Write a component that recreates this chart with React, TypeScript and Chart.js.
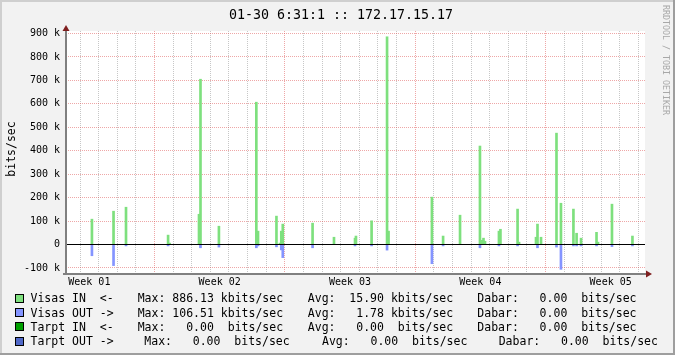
import React, { useEffect, useRef } from 'react';
import { Chart, registerables } from 'chart.js';

Chart.register(...registerables);

// ---------- text ----------
const titleText = '01-30 6:31:1 :: 172.17.15.17';
const unitLabel = 'bits/sec';
const watermarkText = 'RRDTOOL / TOBI OETIKER';

// ---------- x axis (days) ----------
const weekLabels = ['Week 01', 'Week 02', 'Week 03', 'Week 04', 'Week 05'];
const weekLabelDays = [3.5, 10.5, 17.5, 24.5, 31.5];
const gridDays = [3, 4, 5, 6, 7, 8, 9, 10, 11, 12, 13, 14, 15, 16, 17, 18, 19, 20, 21, 22, 23, 24, 25, 26, 27, 28, 29, 30, 31, 32, 33];
const xMinDay = 2.247;
const xMaxDay = 33.344;

// ---------- y axis (kbits/sec) ----------
const yTickK = [-100, -50, 0, 50, 100, 150, 200, 250, 300, 350, 400, 450, 500, 550, 600, 650, 700, 750, 800, 850, 900];
const yMinK = -121.6;
const yMaxK = 910.7;

// ---------- data (2-hour samples, kbits/sec) ----------
const sampleDays = [
  3.64, 4.80, 5.47, 7.73, 7.81, 9.39, 9.47, 10.46, 12.47, 12.56,
  13.55, 13.74, 13.81, 13.89, 15.49, 16.64, 17.77, 17.82, 18.66, 19.49,
  19.57, 21.90, 22.50, 23.41, 24.48, 24.59, 24.67, 24.75, 25.50, 25.58,
  26.50, 26.58, 27.49, 27.57, 27.76, 28.59, 28.83, 29.50, 29.67, 29.91,
  30.74, 30.82, 31.57, 32.67,
];
const visasInK = [
  108, 142, 159, 40, 6, 129, 705, 78, 607, 57,
  121, 6, 57, 87, 91, 31, 27, 36, 101, 886,
  57, 202, 36, 125, 420, 18, 27, 14, 57, 65,
  151, 10, 31, 87, 31, 475, 176, 151, 48, 27,
  52, 10, 172, 36,
];
const visasOutK = [
  48, 90, 6, 6, 0, 0, 14, 11, 14, 6,
  10, 0, 23, 56, 14, 0, 6, 0, 6, 24,
  0, 82, 6, 0, 14, 0, 0, 0, 6, 0,
  6, 0, 0, 14, 0, 11, 106, 6, 6, 6,
  6, 0, 9, 6,
];

// ---------- legend ----------
const legendNames = ['Visas IN  <-', 'Visas OUT ->', 'Tarpt IN  <-', 'Tarpt OUT ->'];
const legendColors = ['#7ee07e', '#8494ff', '#00a000', '#5068c8'];
const legendMax = ['886.13 kbits/sec', '106.51 kbits/sec', '  0.00  bits/sec', '  0.00  bits/sec'];
const legendAvg = [' 15.90 kbits/sec', '  1.78 kbits/sec', '  0.00  bits/sec', '  0.00  bits/sec'];
const legendNow = ['  0.00  bits/sec', '  0.00  bits/sec', '  0.00  bits/sec', '  0.00  bits/sec'];

const MONO = '"DejaVu Sans Mono", monospace';
const MAJOR = 'rgba(222,79,79,0.5)';
const MINOR = 'rgba(143,143,143,0.5)';

const decorPlugin = {
  id: 'rrdDecor',
  beforeDraw(chart: any) {
    const { ctx, chartArea: a, width, height } = chart;
    ctx.save();
    ctx.fillStyle = '#f2f2f2';
    ctx.fillRect(0, 0, width, height);
    ctx.fillStyle = '#cfcfcf';
    ctx.fillRect(0, 0, width, 2);
    ctx.fillRect(0, 0, 2, height);
    ctx.fillStyle = '#9e9e9e';
    ctx.fillRect(0, height - 2, width, 2);
    ctx.fillRect(width - 2, 0, 2, height);
    ctx.fillStyle = '#ffffff';
    ctx.fillRect(a.left, a.top, a.right - a.left, a.bottom - a.top);
    ctx.restore();
  },
  afterDatasetsDraw(chart: any) {
    const { ctx, chartArea: a, scales } = chart;
    const y0 = Math.floor(scales.y.getPixelForValue(0));
    ctx.save();
    ctx.fillStyle = '#000000';
    ctx.fillRect(a.left, y0, a.right - a.left, 1);
    ctx.restore();
  },
  afterDraw(chart: any) {
    const { ctx, chartArea: a, width } = chart;
    ctx.save();
    // axes
    ctx.fillStyle = '#808080';
    ctx.fillRect(a.left - 1, a.top - 3, 2, a.bottom - a.top + 5);
    ctx.fillRect(a.left - 3, a.bottom, a.right - a.left + 7, 2);
    // arrows
    ctx.fillStyle = '#7f1f1f';
    ctx.beginPath();
    ctx.moveTo(a.left - 3.5, a.top);
    ctx.lineTo(a.left + 3.5, a.top);
    ctx.lineTo(a.left, a.top - 6);
    ctx.closePath();
    ctx.fill();
    ctx.beginPath();
    ctx.moveTo(a.right + 1, a.bottom - 2.5);
    ctx.lineTo(a.right + 1, a.bottom + 4.5);
    ctx.lineTo(a.right + 7, a.bottom + 1);
    ctx.closePath();
    ctx.fill();

    // title
    ctx.fillStyle = '#000000';
    ctx.font = `13.3px ${MONO}`;
    ctx.textAlign = 'center';
    ctx.textBaseline = 'alphabetic';
    ctx.fillText(titleText, 341, 19);

    // unit label
    ctx.save();
    ctx.translate(15, 149);
    ctx.rotate(-Math.PI / 2);
    ctx.font = `11.5px ${MONO}`;
    ctx.textAlign = 'center';
    ctx.fillText(unitLabel, 0, 0);
    ctx.restore();

    // watermark
    ctx.save();
    ctx.translate(width - 12, 5);
    ctx.rotate(Math.PI / 2);
    ctx.font = `8.3px ${MONO}`;
    ctx.fillStyle = '#a8a8a8';
    ctx.textAlign = 'left';
    ctx.fillText(watermarkText, 0, 0);
    ctx.restore();

    // legend
    const baselines = [302.3, 316.5, 330.7, 345];
    const colMax = [137.7, 137.7, 137.7, 144.3];
    const colAvg = [307.8, 307.8, 307.8, 322];
    const colNow = [477.3, 477.3, 477.3, 498.7];
    ctx.font = `11.5px ${MONO}`;
    ctx.textAlign = 'left';
    for (let i = 0; i < legendNames.length; i++) {
      const b = baselines[i];
      const top = Math.round(b - 8.3);
      ctx.fillStyle = legendColors[i];
      ctx.fillRect(15, top, 9, 9);
      ctx.strokeStyle = '#000000';
      ctx.lineWidth = 1;
      ctx.strokeRect(15.5, top + 0.5, 8, 8);
      ctx.fillStyle = '#000000';
      ctx.fillText(legendNames[i], 30.5, b);
      ctx.fillText(`Max: ${legendMax[i]}`, colMax[i], b);
      ctx.fillText(`Avg: ${legendAvg[i]}`, colAvg[i], b);
      ctx.fillText(`Dabar: ${legendNow[i]}`, colNow[i], b);
    }
    ctx.restore();
  },
};

export default function App() {
  const ref = useRef<HTMLCanvasElement>(null);
  useEffect(() => {
    document.body.style.margin = '0';
    const canvas = ref.current!;
    const chart = new Chart(canvas, {
      type: 'bar',
      data: {
        datasets: [
          {
            label: 'Visas IN',
            data: sampleDays.map((d, i) => ({ x: d, y: visasInK[i] * 1000 })),
            backgroundColor: legendColors[0],
            borderWidth: 0,
            barThickness: 2,
            grouped: false,
          } as any,
          {
            label: 'Visas OUT',
            data: sampleDays.map((d, i) => ({ x: d, y: -visasOutK[i] * 1000 })),
            backgroundColor: legendColors[1],
            borderWidth: 0,
            barThickness: 2,
            grouped: false,
          } as any,
        ],
      },
      options: {
        animation: false,
        responsive: false,
        events: [],
        layout: { padding: { left: 0, top: 31, right: 30, bottom: 0 } },
        plugins: { legend: { display: false }, tooltip: { enabled: false } },
        scales: {
          x: {
            type: 'linear',
            offset: false,
            min: xMinDay,
            max: xMaxDay,
            afterBuildTicks: (s: any) => {
              const vals = [...gridDays, ...weekLabelDays].sort((p, q) => p - q);
              s.ticks = vals.map((v) => ({ value: v }));
            },
            afterFit: (s: any) => {
              s.height = 82;
            },
            ticks: {
              autoSkip: false,
              maxRotation: 0,
              minRotation: 0,
              padding: 3,
              color: '#000000',
              font: { family: MONO, size: 10 },
              callback: (v: any) => {
                const idx = weekLabelDays.indexOf(Number(v));
                return idx >= 0 ? weekLabels[idx] : '';
              },
            },
            grid: {
              offset: false,
              drawTicks: false,
              lineWidth: 1,
              borderDash: [1, 1],
              color: (c: any) => {
                const v = c.tick ? c.tick.value : NaN;
                if (!gridDays.includes(v)) return 'rgba(0,0,0,0)';
                return v % 7 === 0 ? MAJOR : MINOR;
              },
            } as any,
            border: { display: false, dash: [1, 1] },
          },
          y: {
            type: 'linear',
            min: yMinK * 1000,
            max: yMaxK * 1000,
            afterBuildTicks: (s: any) => {
              s.ticks = yTickK.map((v) => ({ value: v * 1000 }));
            },
            afterFit: (s: any) => {
              s.width = 66;
            },
            ticks: {
              padding: 6,
              color: '#000000',
              font: { family: MONO, size: 10 },
              callback: (v: any) => {
                const n = Number(v);
                if (n % 100000 !== 0) return '';
                return n === 0 ? '0' : `${n / 1000} k`;
              },
            },
            grid: {
              drawTicks: false,
              lineWidth: 1,
              borderDash: [1, 1],
              color: (c: any) => {
                const v = c.tick ? c.tick.value : NaN;
                return v % 100000 === 0 ? MAJOR : MINOR;
              },
            } as any,
            border: { display: false, dash: [1, 1] },
          },
        },
      },
      plugins: [decorPlugin],
    });
    return () => chart.destroy();
  }, []);
  return (
    <div style={{ position: 'absolute', left: 0, top: 0, width: 675, height: 355 }}>
      <canvas ref={ref} width={675} height={355} style={{ display: 'block', width: 675, height: 355 }} />
    </div>
  );
}
